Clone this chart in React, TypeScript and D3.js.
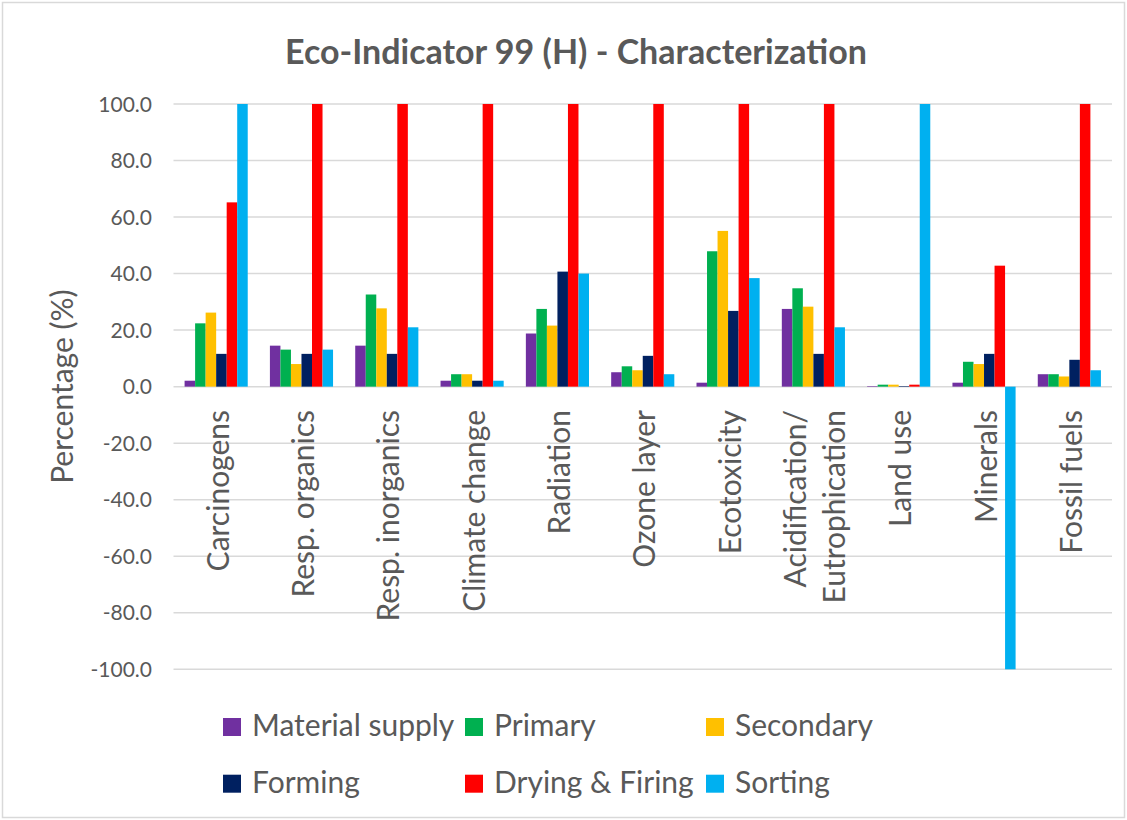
import React from "react";
import * as d3 from "d3";

// Impact categories (x axis)
const categories: string[][] = [
  ["Carcinogens"],
  ["Resp. organics"],
  ["Resp. inorganics"],
  ["Climate change"],
  ["Radiation"],
  ["Ozone layer"],
  ["Ecotoxicity"],
  ["Acidification/", "Eutrophication"],
  ["Land use"],
  ["Minerals"],
  ["Fossil fuels"],
];

// Process stages (series)
const seriesNames = [
  "Material supply",
  "Primary",
  "Secondary",
  "Forming",
  "Drying & Firing",
  "Sorting",
];
const seriesColors = ["#7030A0", "#00B050", "#FFC000", "#002060", "#FF0000", "#00B0F0"];

// Characterization results, % of the largest contributor per category
const materialSupply = [2.1, 14.5, 14.5, 2.1, 18.8, 5.1, 1.4, 27.5, 0.2, 1.4, 4.4];
const primary = [22.4, 13.1, 32.6, 4.4, 27.5, 7.2, 47.9, 34.8, 0.7, 8.8, 4.4];
const secondary = [26.2, 8.0, 27.7, 4.4, 21.6, 5.8, 55.1, 28.3, 0.7, 8.0, 3.6];
const forming = [11.6, 11.6, 11.6, 2.1, 40.7, 10.9, 26.8, 11.6, 0.2, 11.6, 9.5];
const dryingFiring = [65.2, 100, 100, 100, 100, 100, 100, 100, 0.7, 42.8, 100];
const sorting = [100, 13.1, 21.0, 2.1, 40.0, 4.4, 38.4, 21.0, 100, -100, 5.8];

const seriesValues = [materialSupply, primary, secondary, forming, dryingFiring, sorting];

const yTicks = [100, 80, 60, 40, 20, 0, -20, -40, -60, -80, -100];

const W = 1127;
const H = 820;
const plotLeft = 173.5;
const plotRight = 1112;
const yTop = 104;
const yBottom = 669.3;

const FONT = "Lato, 'Open Sans', sans-serif";
const TEXT = "#595959";
const GRID = "#d9d9d9";

export default function App() {
  const catKeys = categories.map((c) => c.join(" "));
  const x0 = d3
    .scaleBand<string>()
    .domain(catKeys)
    .range([plotLeft, plotRight])
    .paddingInner(0.26)
    .paddingOuter(0.13);
  const x1 = d3
    .scaleBand<string>()
    .domain(seriesNames)
    .range([0, x0.bandwidth()])
    .padding(0);
  const y = d3.scaleLinear().domain([-100, 100]).range([yBottom, yTop]);

  const legendCols = [223, 465, 706];
  const legendRows = [736, 792.7];

  return (
    <svg
      width={W}
      height={H}
      style={{ position: "absolute", left: 0, top: 0, display: "block", background: "#fff" }}
      fontFamily={FONT}
    >
      <rect x={2.5} y={2.5} width={W - 5} height={H - 5} fill="#fff" stroke={GRID} strokeWidth={1.5} />

      <text x={576} y={64} textAnchor="middle" fontSize={34} fontWeight={700} fill={TEXT}>
        Eco-Indicator 99 (H) - Characterization
      </text>

      {/* gridlines */}
      {yTicks.map((t) => (
        <line
          key={t}
          x1={plotLeft}
          x2={plotRight}
          y1={y(t)}
          y2={y(t)}
          stroke={GRID}
          strokeWidth={1.5}
        />
      ))}

      {/* y tick labels */}
      {yTicks.map((t) => (
        <text
          key={"l" + t}
          x={152}
          y={y(t)}
          dy="0.36em"
          textAnchor="end"
          fontSize={21}
          fill={TEXT}
        >
          {t.toFixed(1)}
        </text>
      ))}

      <text
        transform={`translate(73, ${(yTop + yBottom) / 2}) rotate(-90)`}
        textAnchor="middle"
        fontSize={30}
        fill={TEXT}
      >
        Percentage (%)
      </text>

      {/* bars */}
      {catKeys.map((c, ci) => (
        <g key={c} transform={`translate(${x0(c)},0)`}>
          {seriesNames.map((s, si) => {
            const v = seriesValues[si][ci];
            const y0 = y(0);
            const yv = y(v);
            return (
              <rect
                key={s}
                x={x1(s)}
                y={Math.min(y0, yv)}
                width={x1.bandwidth()}
                height={Math.abs(yv - y0)}
                fill={seriesColors[si]}
              />
            );
          })}
        </g>
      ))}

      {/* category labels */}
      {categories.map((lines, ci) => {
        const cx = (x0(catKeys[ci]) as number) + x0.bandwidth() / 2;
        const lh = 39;
        const n = lines.length;
        return lines.map((ln, li) => {
          const bx = cx + 12.5 + (li - (n - 1) / 2) * lh;
          return (
            <text
              key={ci + "-" + li}
              transform={`translate(${bx}, 410) rotate(-90)`}
              textAnchor="end"
              fontSize={30}
              fill={TEXT}
            >
              {ln}
            </text>
          );
        });
      })}

      {/* legend */}
      {seriesNames.map((s, i) => {
        const col = i % 3;
        const row = Math.floor(i / 3);
        const lx = legendCols[col];
        const ly = legendRows[row];
        return (
          <g key={s}>
            <rect x={lx} y={ly - 18} width={18} height={18} fill={seriesColors[i]} />
            <text x={lx + 29} y={ly} fontSize={30} fill={TEXT}>
              {s}
            </text>
          </g>
        );
      })}
    </svg>
  );
}
